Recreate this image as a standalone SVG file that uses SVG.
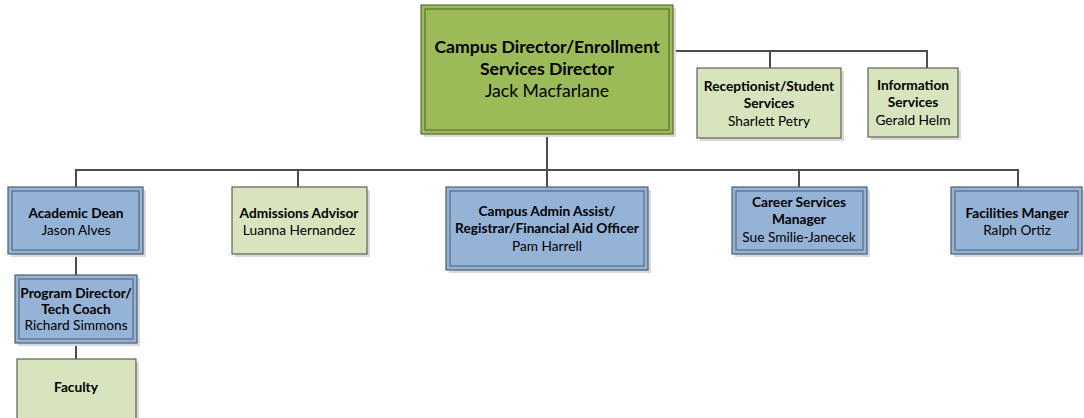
<svg xmlns="http://www.w3.org/2000/svg" width="1084" height="418" viewBox="0 0 1084 418">
<style>
.shadow{fill:#d9d9d9}
.top{fill:#9bbb59;stroke:#5a6b3a;stroke-width:1.2}
.topin{fill:none;stroke:#4f6228;stroke-width:1}
.blue{fill:#95b3d7;stroke:#4d5d70;stroke-width:1.2}
.bluein{fill:none;stroke:#4d5d70;stroke-width:1}
.lg{fill:#d7e4bd;stroke:#5f6152;stroke-width:1.2}
.conn{fill:none;stroke:#4d4d4d;stroke-width:2}
text{font-family:Lato,"Liberation Sans",sans-serif;text-anchor:middle;fill:#000}
.b{font-weight:bold;font-size:13.7px}
.n{font-size:13.7px}
.tb{font-weight:bold;font-size:17.6px}
.tn{font-size:17.6px}
</style>
<g id="connectors">
<path class="conn" d="M547,134 V170 M76,187 V170 H1018 V187 M298,170 V187 M547,170 V187 M799,170 V187 M673,51 H927 V68 M770,51 V68 M76,254 V275 M76,343 V359"/>
</g>
<g id="campus-director">
<rect class="shadow" x="424" y="8" width="252" height="129"/>
<rect class="top" x="421" y="5" width="252" height="129"/>
<rect class="topin" x="425" y="9" width="244" height="121"/>
<text class="tb" x="547" y="53">Campus Director/Enrollment</text>
<text class="tb" x="547" y="75">Services Director</text>
<text class="tn" x="547" y="97">Jack Macfarlane</text>
</g>
<g id="receptionist">
<rect class="shadow" x="700" y="71" width="144" height="70"/>
<rect class="lg" x="697" y="68" width="144" height="70"/>
<text class="b" x="769" y="91">Receptionist/Student</text>
<text class="b" x="769" y="108">Services</text>
<text class="n" x="769" y="126">Sharlett Petry</text>
</g>
<g id="information">
<rect class="shadow" x="871" y="71" width="90" height="69"/>
<rect class="lg" x="868" y="68" width="90" height="69"/>
<text class="b" x="913" y="90">Information</text>
<text class="b" x="913" y="107">Services</text>
<text class="n" x="913" y="125">Gerald Helm</text>
</g>
<g id="academic-dean">
<rect class="shadow" x="11" y="190" width="135" height="67"/>
<rect class="blue" x="8" y="187" width="135" height="67"/>
<rect class="bluein" x="12" y="191" width="127" height="59"/>
<text class="b" x="76" y="218">Academic Dean</text>
<text class="n" x="76" y="235">Jason Alves</text>
</g>
<g id="admissions">
<rect class="shadow" x="235" y="190" width="135" height="67"/>
<rect class="lg" x="232" y="187" width="135" height="67"/>
<text class="b" x="299" y="218">Admissions Advisor</text>
<text class="n" x="299" y="235">Luanna Hernandez</text>
</g>
<g id="campus-admin">
<rect class="shadow" x="449" y="190" width="202" height="83"/>
<rect class="blue" x="446" y="187" width="202" height="83"/>
<rect class="bluein" x="450" y="191" width="194" height="75"/>
<text class="b" x="547" y="216">Campus Admin Assist/</text>
<text class="b" x="547" y="233">Registrar/Financial Aid Officer</text>
<text class="n" x="547" y="251">Pam Harrell</text>
</g>
<g id="career-services">
<rect class="shadow" x="735" y="190" width="135" height="67"/>
<rect class="blue" x="732" y="187" width="135" height="67"/>
<rect class="bluein" x="736" y="191" width="127" height="59"/>
<text class="b" x="799" y="207">Career Services</text>
<text class="b" x="799" y="224">Manager</text>
<text class="n" x="799" y="242">Sue Smilie-Janecek</text>
</g>
<g id="facilities">
<rect class="shadow" x="954" y="190" width="132" height="67"/>
<rect class="blue" x="951" y="187" width="131" height="67"/>
<rect class="bluein" x="955" y="191" width="123" height="59"/>
<text class="b" x="1017" y="218">Facilities Manger</text>
<text class="n" x="1017" y="235">Ralph Ortiz</text>
</g>
<g id="program-director">
<rect class="shadow" x="18" y="278" width="122" height="68"/>
<rect class="blue" x="15" y="275" width="122" height="68"/>
<rect class="bluein" x="19" y="279" width="114" height="60"/>
<text class="b" x="76" y="298">Program Director/</text>
<text class="b" x="76" y="314">Tech Coach</text>
<text class="n" x="76" y="330">Richard Simmons</text>
</g>
<g id="faculty">
<rect class="shadow" x="20" y="362" width="119" height="70"/>
<rect class="lg" x="17" y="359" width="119" height="70"/>
<text class="b" x="76" y="392">Faculty</text>
</g>
</svg>
